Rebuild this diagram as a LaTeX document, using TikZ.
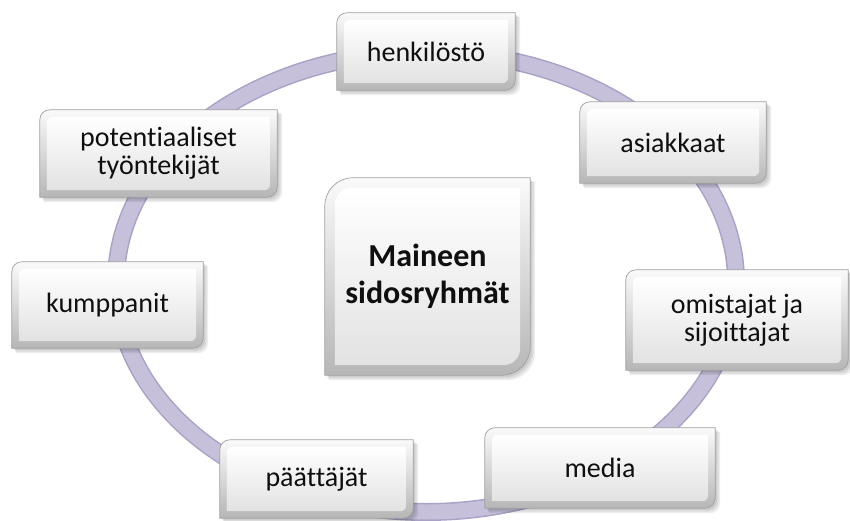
\documentclass[tikz,border=0pt]{standalone}
\usepackage{fontspec}
\setmainfont{Carlito}[RawFeature=-liga]
\usetikzlibrary{calc}

\pgfdeclarelayer{paper}
\pgfdeclarelayer{ring}
\pgfdeclarelayer{boxes}
\pgfsetlayers{paper,ring,boxes,main}

\definecolor{ringfill}{RGB}{198,192,219}
\definecolor{ringedge}{RGB}{170,162,198}
\definecolor{rimtop}{RGB}{250,250,250}
\definecolor{rimbot}{RGB}{182,182,182}
\definecolor{facetop}{RGB}{255,255,255}
\definecolor{facebot}{RGB}{226,226,226}
\definecolor{boxline}{RGB}{160,160,160}
\definecolor{labeltext}{RGB}{15,15,15}

\tikzset{
  stake/.style={inner sep=0pt, align=center, text=labeltext,
    font=\fontsize{28}{28}\selectfont},
  hub/.style={inner sep=0pt, align=center, text=labeltext,
    font=\fontsize{32}{37}\selectfont\bfseries},
  rimshade/.style={top color=rimtop, bottom color=rimbot, draw=boxline, line width=0.7pt},
  faceshade/.style={top color=facetop, bottom color=facebot},
  shadowfill/.style={fill=black, opacity=0.07},
}

% outline with rounded top-left and bottom-right corners: left, top, right, bottom, radius
\newcommand\dshape[5]{(#1,#4) -- (#1,#2-#5)
  arc[start angle=180, end angle=90, radius=#5] -- (#3,#2) -- (#3,#4+#5)
  arc[start angle=0, end angle=-90, radius=#5] -- cycle}

% bevelled plate behind a node: node name, corner radius, bevel width
\newcommand\bevelbox[3]{%
  \path let \p1=(#1.north west), \p2=(#1.south east) in
    \pgfextra{\xdef\bL{\x1}\xdef\bT{\y1}\xdef\bR{\x2}\xdef\bB{\y2}};
  \fill[shadowfill] \dshape{\bL+2pt}{\bT-2pt}{\bR+2pt}{\bB-2pt}{#2};
  \fill[shadowfill] \dshape{\bL+3pt}{\bT-3pt}{\bR+3.5pt}{\bB-3.5pt}{#2};
  \fill[shadowfill] \dshape{\bL+4pt}{\bT-4pt}{\bR+5pt}{\bB-5pt}{#2};
  \path[rimshade] \dshape{\bL}{\bT}{\bR}{\bB}{#2};
  \path[faceshade] \dshape{\bL+#3}{\bT-#3}{\bR-#3}{\bB+#3}{#2*0.6};
}

\begin{document}
\begin{tikzpicture}[x=1pt, y=1pt]
  \useasboundingbox (0,0) rectangle (850,520);
  \begin{pgfonlayer}{paper}
    \fill[white] (0,0) rectangle (850,520);
  \end{pgfonlayer}

  % surrounding ring
  \coordinate (ringc) at (426,238);
  \begin{pgfonlayer}{ring}
    \draw[ringedge, line width=18pt] (ringc) ellipse[x radius=310, y radius=230];
    \draw[ringfill, line width=15pt] (ringc) ellipse[x radius=310, y radius=230];
  \end{pgfonlayer}

  % stakeholder labels
  \node[stake, minimum width=178pt, minimum height=77pt]  (hen) at (426,468.5)   {henkilöstö};
  \node[stake, minimum width=186pt, minimum height=81pt]  (asi) at (673,377.5)   {asiakkaat};
  \node[stake, minimum width=237pt, minimum height=87pt]  (pot) at (158.5,366.5) {potentiaaliset\\työntekijät};
  \node[stake, minimum width=191pt, minimum height=86pt]  (kum) at (107.5,215)   {kumppanit};
  \node[stake, minimum width=222pt, minimum height=100pt] (omi) at (737,200)     {omistajat ja\\sijoittajat};
  \node[stake, minimum width=193pt, minimum height=78pt]  (paa) at (316.5,41)    {päättäjät};
  \node[stake, minimum width=230pt, minimum height=80pt]  (med) at (600,52)      {media};
  \node[hub,   minimum width=205pt, minimum height=197pt] (hub) at (427.5,243.5) {Maineen\\sidosryhmät};

  % plates behind the labels
  \begin{pgfonlayer}{boxes}
    \bevelbox{hen}{10pt}{7pt}
    \bevelbox{asi}{10pt}{7pt}
    \bevelbox{pot}{10pt}{7pt}
    \bevelbox{kum}{10pt}{7pt}
    \bevelbox{omi}{10pt}{7pt}
    \bevelbox{paa}{10pt}{7pt}
    \bevelbox{med}{10pt}{7pt}
    \bevelbox{hub}{28pt}{10pt}
  \end{pgfonlayer}
\end{tikzpicture}
\end{document}
